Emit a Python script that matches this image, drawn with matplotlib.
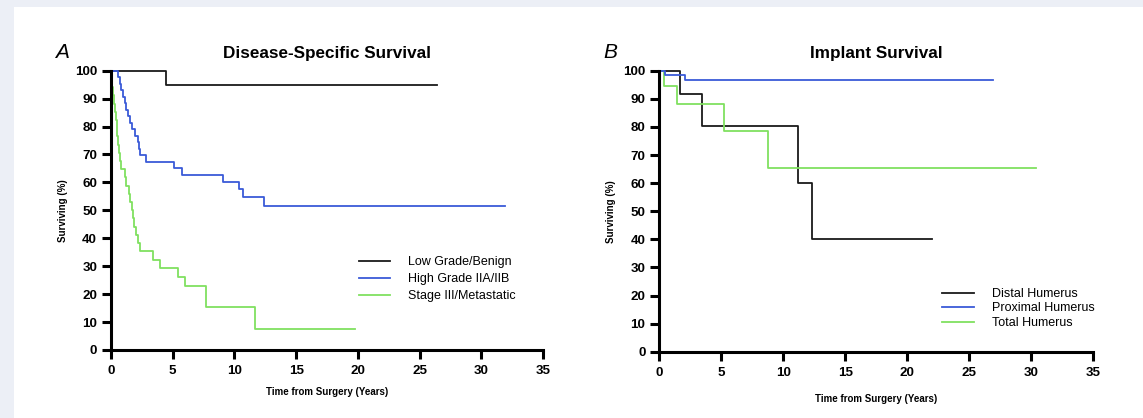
import matplotlib
matplotlib.use("Agg")
import matplotlib.pyplot as plt
from matplotlib.patches import Rectangle

plt.rcParams['font.family'] = ['Liberation Sans', 'DejaVu Sans']

# ---------------- Data: Panel A (Disease-Specific Survival) ----------------
a_low_t = [0, 4.43, 26.4]
a_low_s = [100, 95.0, 95.0]

a_high_t = [0, 0.55, 0.75, 0.85, 0.97, 1.1, 1.25, 1.35, 1.5, 1.7, 1.95, 2.18,
            2.28, 2.37, 2.8, 5.07, 5.75, 9.1, 10.4, 10.7, 12.4, 31.9]
a_high_s = [100, 97.7, 95.3, 93.0, 90.7, 88.4, 86.0, 83.7, 81.4, 79.1, 76.7, 74.4,
            72.1, 69.8, 67.4, 65.1, 62.6, 60.2, 57.6, 54.7, 51.6, 51.6]

a_met_t = [0, 0.05, 0.12, 0.18, 0.25, 0.3, 0.38, 0.45, 0.52, 0.6, 0.68, 0.75, 0.83,
           1.1, 1.25, 1.43, 1.55, 1.7, 1.78, 1.85, 2.05, 2.2, 2.32, 3.37, 4.0,
           5.4, 6.0, 7.7, 11.7, 19.8]
a_met_s = [100, 97.1, 94.1, 91.2, 88.2, 85.3, 82.4, 79.4, 76.5, 73.5, 70.6, 67.6, 64.7,
           61.8, 58.8, 55.9, 52.9, 50.0, 47.1, 44.1, 41.2, 38.2, 35.3, 32.4, 29.4,
           26.2, 22.9, 15.3, 7.6, 7.6]

a_labels = ["Low Grade/Benign", "High Grade IIA/IIB", "Stage III/Metastatic"]

# ---------------- Data: Panel B (Implant Survival) ----------------
b_distal_t = [0, 1.67, 3.44, 11.2, 12.3, 21.96]
b_distal_s = [100, 91.7, 80.2, 60.2, 40.1, 40.1]

b_prox_t = [0, 0.46, 2.07, 26.9]
b_prox_s = [100, 98.4, 96.8, 96.8]

b_total_t = [0, 0.38, 1.45, 5.24, 8.79, 30.4]
b_total_s = [100, 94.4, 88.2, 78.4, 65.3, 65.3]

b_labels = ["Distal Humerus", "Proximal Humerus", "Total Humerus"]

x_ticks = [0, 5, 10, 15, 20, 25, 30, 35]
y_ticks = [0, 10, 20, 30, 40, 50, 60, 70, 80, 90, 100]

BLACK = "#1a1a1a"
BLUE = "#3a5ad8"
GREEN = "#80e060"

W, H = 1143, 418
fig = plt.figure(figsize=(W / 100, H / 100), dpi=100)
fig.patch.set_facecolor("#eceff6")
fig.patches.append(Rectangle((14 / W, 0), 1 - 14 / W, 1 - 7 / H,
                             transform=fig.transFigure, facecolor="white",
                             edgecolor="none", zorder=-10))


def px_axes(x0, x1, y_top, y_bot):
    return fig.add_axes([x0 / W, 1 - y_bot / H, (x1 - x0) / W, (y_bot - y_top) / H])


def style(ax):
    ax.set_facecolor("none")
    ax.set_xlim(0, 35)
    ax.set_ylim(0, 100)
    ax.set_xticks(x_ticks)
    ax.set_yticks(y_ticks)
    for s in ["top", "right"]:
        ax.spines[s].set_visible(False)
    for s in ["left", "bottom"]:
        ax.spines[s].set_linewidth(2.2)
        ax.spines[s].set_color("black")
    ax.tick_params(width=2.2, length=6.5, direction="out", labelsize=9.6)
    ax.tick_params(axis="x", pad=4.5)
    ax.tick_params(axis="y", pad=3.5)
    for lab in ax.get_xticklabels() + ax.get_yticklabels():
        lab.set_fontweight("bold")
    ax.set_ylabel("Surviving (%)", fontsize=7, fontweight="bold", labelpad=5)


axA = px_axes(111, 543, 70.7, 350)
axB = px_axes(659.3, 1093.3, 70.7, 351.7)

for ax in (axA, axB):
    style(ax)

lw = 1.3
axA.step(a_low_t, a_low_s, where="post", color=BLACK, lw=lw, clip_on=False, label=a_labels[0])
axA.step(a_high_t, a_high_s, where="post", color=BLUE, lw=lw, clip_on=False, label=a_labels[1])
axA.step(a_met_t, a_met_s, where="post", color=GREEN, lw=lw, clip_on=False, label=a_labels[2])

axB.step(b_distal_t, b_distal_s, where="post", color=BLACK, lw=lw, clip_on=False, label=b_labels[0])
axB.step(b_total_t, b_total_s, where="post", color=GREEN, lw=lw, clip_on=False, label=b_labels[2])
axB.step(b_prox_t, b_prox_s, where="post", color=BLUE, lw=lw, clip_on=False, label=b_labels[1])

hA, lA = axA.get_legend_handles_labels()
axA.legend(hA, lA, loc="upper left", bbox_to_anchor=(0.573, 0.337), frameon=False,
           fontsize=9, handlelength=2.5, handletextpad=1.45, labelspacing=0.42,
           borderpad=0, borderaxespad=0)

hB, lB = axB.get_legend_handles_labels()
order = [0, 2, 1]
axB.legend([hB[i] for i in order], [lB[i] for i in order], loc="upper left",
           bbox_to_anchor=(0.652, 0.227), frameon=False,
           fontsize=9, handlelength=2.5, handletextpad=1.45, labelspacing=0.2,
           borderpad=0, borderaxespad=0)

axA.set_xlabel("Time from Surgery (Years)", fontsize=7, fontweight="bold", labelpad=7)
axB.set_xlabel("Time from Surgery (Years)", fontsize=7, fontweight="bold", labelpad=11)

axA.set_title("Disease-Specific Survival", fontsize=12.3, fontweight="bold", pad=9)
axB.set_title("Implant Survival", fontsize=12.3, fontweight="bold", pad=9)

fig.text(61.7 / W, 1 - 52 / H, "A", fontsize=15, style="italic", ha="center", va="center")
fig.text(610 / W, 1 - 52 / H, "B", fontsize=15, style="italic", ha="center", va="center")

fig.savefig("out.png", dpi=100, facecolor=fig.get_facecolor())
